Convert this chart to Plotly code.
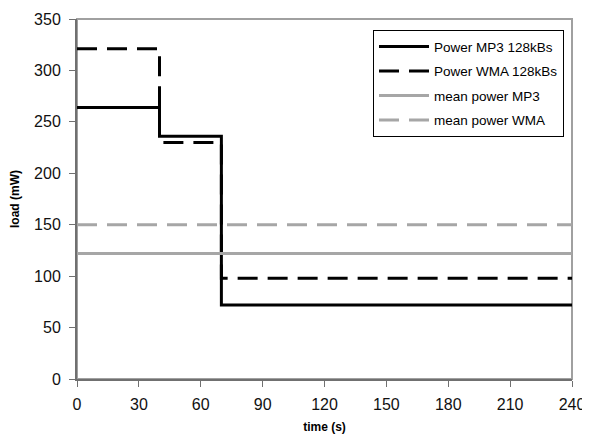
import plotly.graph_objects as go

# --- data ---
time_breaks = [0, 40, 70, 240]
mp3_power = [264, 236, 72, 72]
wma_power = [321, 230, 98, 98]
mean_mp3 = 122
mean_wma = 150
x_ticks = [0, 30, 60, 90, 120, 150, 180, 210, 240]
y_ticks = [0, 50, 100, 150, 200, 250, 300, 350]

FONT = "Arial, Liberation Sans, sans-serif"

fig = go.Figure()
fig.add_trace(go.Scatter(x=time_breaks, y=mp3_power, mode="lines", line_shape="hv",
                         name="Power MP3 128kBs", legendgroup="a",
                         line=dict(color="black", width=3)))
fig.add_trace(go.Scatter(x=time_breaks, y=wma_power, mode="lines", line_shape="hv",
                         name="Power WMA 128kBs", legendgroup="b",
                         line=dict(color="black", width=3, dash="20px,10px")))
fig.add_trace(go.Scatter(x=[time_breaks[0], time_breaks[-1]], y=[mean_mp3, mean_mp3], mode="lines",
                         name="mean power MP3", legendgroup="c",
                         line=dict(color="#a6a6a6", width=3)))
fig.add_trace(go.Scatter(x=[time_breaks[0], time_breaks[-1]], y=[mean_wma, mean_wma], mode="lines",
                         name="mean power WMA", legendgroup="d",
                         line=dict(color="#a6a6a6", width=3, dash="20px,10px")))

# page body has an 8px default margin, so the figure is sized to fit the 590x438 window
fig.update_layout(
    width=582, height=430,
    margin=dict(l=69, r=18, t=11, b=59),
    paper_bgcolor="white", plot_bgcolor="white",
    font=dict(family=FONT, color="black"),
    showlegend=True,
    legend=dict(x=0.598, y=0.969, xanchor="left", yanchor="top",
                bgcolor="white", bordercolor="black", borderwidth=1,
                font=dict(size=13.5, family=FONT), tracegroupgap=4,
                itemwidth=50),
    shapes=[dict(type="rect", xref="paper", yref="paper", x0=0, x1=1, y0=0, y1=1,
                 line=dict(color="#a0a0a0", width=2), layer="below")],
)
fig.update_xaxes(range=[0, 240], tickvals=x_ticks, ticks="outside", ticklen=6,
                 tickcolor="#707070", showline=True, linecolor="#707070", linewidth=2,
                 showgrid=False, zeroline=False, automargin=False,
                 ticklabelstandoff=4,
                 tickfont=dict(size=16, family=FONT, color="#111111"),
                 title=dict(text="<b>time (s)</b>", font=dict(size=12, family=FONT), standoff=10))
fig.update_yaxes(range=[0, 350], tickvals=y_ticks, ticks="outside", ticklen=6,
                 tickcolor="#707070", showline=True, linecolor="#707070", linewidth=2,
                 showgrid=False, zeroline=False, automargin=False,
                 ticklabelstandoff=5,
                 tickfont=dict(size=16, family=FONT, color="#111111"),
                 title=dict(text="<b>load (mW)</b>", font=dict(size=12, family=FONT), standoff=13))

fig.write_html("out.html")
